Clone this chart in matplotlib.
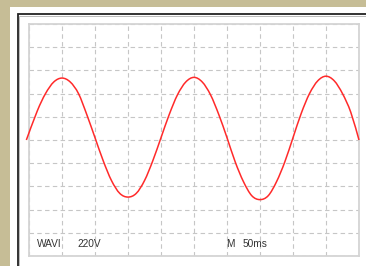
"""Oscilloscope-style screen: a 220 V mains waveform on a 10 x 10 grid."""

import matplotlib.pyplot as plt
import numpy as np
from matplotlib.patches import PathPatch, Rectangle
from matplotlib.path import Path

# Waveform, in grid divisions (x: time div, y: volt div)
TIME_DIV = [-0.08, 0.25, 0.50, 0.75, 1.00, 1.25, 1.50, 1.75, 2.00,
            2.25, 2.50, 2.75, 3.00, 3.25, 3.50, 3.75, 4.00, 4.25, 4.50,
            4.75, 5.00, 5.25, 5.50, 5.75, 6.00, 6.25, 6.50, 6.75, 7.00,
            7.25, 7.50, 7.75, 8.00, 8.25, 8.50, 8.75, 9.00, 9.25, 9.50,
            9.75, 10.00]
VOLT_DIV = [0.00, 1.25, 2.00, 2.50, 2.67, 2.50, 2.00, 1.10, 0.10,
            -0.90, -1.75, -2.30, -2.46, -2.30, -1.75, -0.90, 0.10, 1.10, 1.95,
            2.50, 2.70, 2.50, 1.95, 1.10, 0.10, -0.95, -1.80, -2.40, -2.57,
            -2.40, -1.80, -0.95, 0.10, 1.15, 2.00, 2.55, 2.75, 2.55, 2.00,
            1.20, 0.00]
GRID_TICKS = list(range(0, 11))
CHANNEL_NAME = "WAVI"
CHANNEL_VOLTS = "220V"
TIMEBASE_NAME = "M"
TIMEBASE_VALUE = "50ms"

W, H = 366, 266
fig = plt.figure(figsize=(W / 100, H / 100), dpi=100)
fig.patch.set_facecolor("#c6bd96")


def px(x, y, w, h):
    # pixel box (top-left origin) -> figure fraction
    return (x / W, 1 - (y + h) / H, w / W, h / H)


def smooth_path(xs, ys):
    # Catmull-Rom through the read points, as cubic Bezier segments
    p = np.column_stack([xs, ys])
    verts, codes = [p[0]], [Path.MOVETO]
    for i in range(len(p) - 1):
        p0 = p[i - 1] if i > 0 else p[i]
        p3 = p[i + 2] if i + 2 < len(p) else p[i + 1]
        verts += [p[i] + (p[i + 1] - p0) / 6, p[i + 1] - (p3 - p[i]) / 6, p[i + 1]]
        codes += [Path.CURVE4] * 3
    return Path(verts, codes)


# white screen panel with dark bevel at left / top
fig.patches.append(Rectangle(px(10, 7, 400, 300)[:2], 400 / W, 300 / H,
                             transform=fig.transFigure, facecolor="white",
                             edgecolor="none", zorder=0))
fig.patches.append(Rectangle(px(17.5, 14, 400, 300)[:2], 400 / W, 300 / H,
                             transform=fig.transFigure, facecolor="white",
                             edgecolor="#222222", linewidth=1.3, zorder=1))
fig.patches.append(Rectangle(px(19, 15.5, 400, 300)[:2], 400 / W, 300 / H,
                             transform=fig.transFigure, facecolor="none",
                             edgecolor="#bbbbbb", linewidth=0.7, zorder=1))

ax = fig.add_axes(px(29, 24, 330, 232))
ax.set_zorder(5)
ax.set_facecolor("none")
ax.set_xlim(0, 10)
ax.set_ylim(-5, 5)
ax.set_xticks(GRID_TICKS)
ax.set_yticks([t - 5 for t in GRID_TICKS])
ax.tick_params(length=0, labelbottom=False, labelleft=False)
ax.grid(True, color="#c6c6c6", linestyle=(0, (4, 3)), linewidth=0.8)
for s in ax.spines.values():
    s.set_color("#d4d4d4")
    s.set_linewidth(1.3)

ax.add_patch(PathPatch(smooth_path(TIME_DIV, VOLT_DIV), facecolor="none",
                       edgecolor="#ff2a2a", linewidth=1.1, clip_on=False,
                       zorder=3))

txt = dict(fontsize=7.3, color="#333333", family="Liberation Sans",
           va="baseline", ha="left")
ax.text(0.23, -4.61, CHANNEL_NAME, **txt)
ax.text(1.46, -4.61, CHANNEL_VOLTS, **txt)
ax.text(5.98, -4.61, TIMEBASE_NAME, **txt)
ax.text(6.46, -4.61, TIMEBASE_VALUE, **txt)

plt.savefig("out.png", dpi=100)
plt.close()
